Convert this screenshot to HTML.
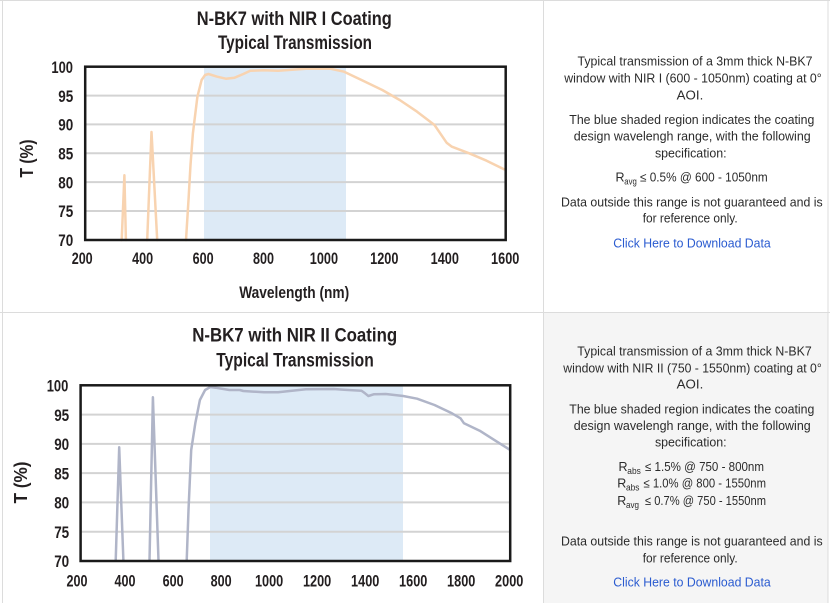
<!DOCTYPE html>
<html><head><meta charset="utf-8"><style>
html,body{margin:0;padding:0;background:#fff;}
svg{display:block;}
.t{font-family:"Liberation Sans Narrow","Liberation Sans",sans-serif;font-weight:bold;fill:#231f20;}
.k{font-family:"Liberation Sans Narrow","Liberation Sans",sans-serif;fill:#231f20;font-size:17px;font-weight:bold;}
.r{font-family:"Liberation Sans",sans-serif;fill:#2b2b2b;font-size:12.5px;}
.s{font-family:"Liberation Sans",sans-serif;fill:#2b2b2b;font-size:9px;}
.l{font-family:"Liberation Sans",sans-serif;fill:#2a5bd0;font-size:12.5px;}
</style></head><body>
<svg width="830" height="603" viewBox="0 0 830 603" xmlns="http://www.w3.org/2000/svg">
<rect x="0" y="0" width="830" height="603" fill="#fff"/>
<rect x="544" y="313" width="284" height="290" fill="#f5f5f5"/>
<g stroke="#dcdcdc" stroke-width="1" fill="none">
<line x1="0" y1="0.5" x2="830" y2="0.5"/>
<line x1="2.5" y1="0" x2="2.5" y2="603"/>
<line x1="828" y1="0" x2="828" y2="603"/>
<line x1="543.5" y1="0" x2="543.5" y2="603"/>
<line x1="0" y1="312.5" x2="830" y2="312.5"/>
</g>

<!-- TOP CHART -->
<text class="t" x="294.3" y="25" font-size="19.5" text-anchor="middle" textLength="195" lengthAdjust="spacingAndGlyphs">N-BK7 with NIR I Coating</text>
<text class="t" x="295" y="49" font-size="19.5" text-anchor="middle" textLength="154" lengthAdjust="spacingAndGlyphs">Typical Transmission</text>
<rect x="204" y="66.7" width="142" height="173.3" fill="#ddeaf6"/>
<g stroke="#d3d3d3" stroke-width="2">
<line x1="85" y1="95.6" x2="506" y2="95.6"/>
<line x1="85" y1="124.4" x2="506" y2="124.4"/>
<line x1="85" y1="153.3" x2="506" y2="153.3"/>
<line x1="85" y1="182.1" x2="506" y2="182.1"/>
<line x1="85" y1="211" x2="506" y2="211"/>
</g>
<g fill="none" stroke="#f8d3b0" stroke-width="2.5" stroke-linejoin="round" stroke-linecap="round">
<polyline points="121.7,240 124.4,175.3 125.9,240"/>
<polyline points="147.2,240 151.5,132 157.2,240"/>
<polyline points="186,240 188.5,200 190.5,165 192.9,133.3 197.4,96.7 201.6,80 205.1,75 208.5,74 217.2,76.7 225.9,78.7 234.6,77.7 243.3,74 250.3,70.7 264.2,70.3 278.1,70.7 288.5,70 305.9,68.7 330.2,68.7 344.1,71.7 361.5,80 382.3,90 399.7,100 417.1,111.7 434.5,125 446.6,142.7 451.9,146.7 469.2,153.3 486.6,160.7 504,169.3"/>
</g>
<rect x="85.2" y="66.7" width="420.5" height="173.3" fill="none" stroke="#1a1a1a" stroke-width="2.5"/>
<g class="k" text-anchor="middle">
<text x="62.2" y="72.9" textLength="21.6" lengthAdjust="spacingAndGlyphs">100</text>
<text x="65.8" y="101.8" textLength="15" lengthAdjust="spacingAndGlyphs">95</text>
<text x="65.8" y="130.6" textLength="15" lengthAdjust="spacingAndGlyphs">90</text>
<text x="65.8" y="159.5" textLength="15" lengthAdjust="spacingAndGlyphs">85</text>
<text x="65.8" y="188.3" textLength="15" lengthAdjust="spacingAndGlyphs">80</text>
<text x="65.8" y="217.2" textLength="15" lengthAdjust="spacingAndGlyphs">75</text>
<text x="65.8" y="246.2" textLength="15" lengthAdjust="spacingAndGlyphs">70</text>
<text x="82.2" y="264" textLength="21" lengthAdjust="spacingAndGlyphs">200</text>
<text x="142.6" y="264" textLength="21" lengthAdjust="spacingAndGlyphs">400</text>
<text x="203.1" y="264" textLength="21" lengthAdjust="spacingAndGlyphs">600</text>
<text x="263.5" y="264" textLength="21" lengthAdjust="spacingAndGlyphs">800</text>
<text x="323.9" y="264" textLength="28.3" lengthAdjust="spacingAndGlyphs">1000</text>
<text x="384.3" y="264" textLength="28.3" lengthAdjust="spacingAndGlyphs">1200</text>
<text x="444.8" y="264" textLength="28.3" lengthAdjust="spacingAndGlyphs">1400</text>
<text x="505.2" y="264" textLength="28.3" lengthAdjust="spacingAndGlyphs">1600</text>
</g>
<text class="t" x="294.2" y="298" font-size="17" text-anchor="middle" textLength="110" lengthAdjust="spacingAndGlyphs">Wavelength (nm)</text>
<text class="t" font-size="18" text-anchor="middle" transform="translate(33,158.5) rotate(-90)" textLength="38" lengthAdjust="spacingAndGlyphs">T (%)</text>

<!-- BOTTOM CHART -->
<text class="t" x="294.7" y="341.7" font-size="19.5" text-anchor="middle" textLength="205" lengthAdjust="spacingAndGlyphs">N-BK7 with NIR II Coating</text>
<text class="t" x="295" y="366.7" font-size="19.5" text-anchor="middle" textLength="157.5" lengthAdjust="spacingAndGlyphs">Typical Transmission</text>
<rect x="210" y="385.3" width="193" height="175.7" fill="#ddeaf6"/>
<g stroke="#d3d3d3" stroke-width="2">
<line x1="80.6" y1="414.6" x2="510.2" y2="414.6"/>
<line x1="80.6" y1="443.9" x2="510.2" y2="443.9"/>
<line x1="80.6" y1="473.1" x2="510.2" y2="473.1"/>
<line x1="80.6" y1="502.4" x2="510.2" y2="502.4"/>
<line x1="80.6" y1="531.7" x2="510.2" y2="531.7"/>
</g>
<g fill="none" stroke="#b0b5c8" stroke-width="2.5" stroke-linejoin="round" stroke-linecap="round">
<polyline points="115.7,560.7 119.2,447.3 123.4,560.7"/>
<polyline points="149.5,560.7 152.9,397.3 158.5,560.7"/>
<polyline points="186.7,560.7 188.5,510 191.2,450 195.3,423.3 199.9,400 205.1,390 210.3,387 215.5,387.7 229.4,390 239.8,390 243.3,391 264.2,392.3 278.1,392.3 305.9,389.3 333.7,389 344.1,389.7 361.5,390.7 365,393.3 368.4,396 373.7,394.3 385.8,394 403.2,396 417.1,398.7 434.5,405 451.9,413.3 460.5,418.3 464,423.3 479.7,430.7 497,441.7 510.2,450"/>
</g>
<rect x="80.6" y="385.3" width="429.6" height="175.7" fill="none" stroke="#1a1a1a" stroke-width="2.5"/>
<g class="k" text-anchor="middle">
<text x="57.5" y="391.5" textLength="21.6" lengthAdjust="spacingAndGlyphs">100</text>
<text x="61.7" y="420.8" textLength="15" lengthAdjust="spacingAndGlyphs">95</text>
<text x="61.7" y="450.1" textLength="15" lengthAdjust="spacingAndGlyphs">90</text>
<text x="61.7" y="479.3" textLength="15" lengthAdjust="spacingAndGlyphs">85</text>
<text x="61.7" y="508.6" textLength="15" lengthAdjust="spacingAndGlyphs">80</text>
<text x="61.7" y="537.9" textLength="15" lengthAdjust="spacingAndGlyphs">75</text>
<text x="61.7" y="567.2" textLength="15" lengthAdjust="spacingAndGlyphs">70</text>
<text x="77" y="586.7" textLength="21" lengthAdjust="spacingAndGlyphs">200</text>
<text x="125" y="586.7" textLength="21" lengthAdjust="spacingAndGlyphs">400</text>
<text x="173.1" y="586.7" textLength="21" lengthAdjust="spacingAndGlyphs">600</text>
<text x="221.1" y="586.7" textLength="21" lengthAdjust="spacingAndGlyphs">800</text>
<text x="269.1" y="586.7" textLength="28.3" lengthAdjust="spacingAndGlyphs">1000</text>
<text x="317.1" y="586.7" textLength="28.3" lengthAdjust="spacingAndGlyphs">1200</text>
<text x="365.2" y="586.7" textLength="28.3" lengthAdjust="spacingAndGlyphs">1400</text>
<text x="413.2" y="586.7" textLength="28.3" lengthAdjust="spacingAndGlyphs">1600</text>
<text x="461.2" y="586.7" textLength="28.3" lengthAdjust="spacingAndGlyphs">1800</text>
<text x="509.2" y="586.7" textLength="28.3" lengthAdjust="spacingAndGlyphs">2000</text>
</g>
<text class="t" font-size="18" text-anchor="middle" transform="translate(27,482.5) rotate(-90)" textLength="42" lengthAdjust="spacingAndGlyphs">T (%)</text>

<!-- TOP RIGHT TEXT -->
<g text-anchor="middle">
<text class="r" x="695" y="65.7" textLength="235" lengthAdjust="spacingAndGlyphs">Typical transmission of a 3mm thick N-BK7</text>
<text class="r" x="693" y="82.7" textLength="257.4" lengthAdjust="spacingAndGlyphs">window with NIR I (600 - 1050nm) coating at 0°</text>
<text class="r" x="690" y="99.3" textLength="26.6" lengthAdjust="spacingAndGlyphs">AOI.</text>
<text class="r" x="691.8" y="124" textLength="245" lengthAdjust="spacingAndGlyphs">The blue shaded region indicates the coating</text>
<text class="r" x="692.2" y="140.5" textLength="237" lengthAdjust="spacingAndGlyphs">design wavelengh range, with the following</text>
<text class="r" x="690.8" y="157.3" textLength="71.7" lengthAdjust="spacingAndGlyphs">specification:</text>
<text class="r" x="691.8" y="206.7" textLength="261.7" lengthAdjust="spacingAndGlyphs">Data outside this range is not guaranteed and is</text>
<text class="r" x="690.2" y="222.7" textLength="95" lengthAdjust="spacingAndGlyphs">for reference only.</text>
<text class="l" x="692" y="247.3" textLength="157.4" lengthAdjust="spacingAndGlyphs">Click Here to Download Data</text>
</g>
<text class="r" x="615.5" y="181.7">R</text>
<text class="s" x="624.3" y="184.5" textLength="12.5" lengthAdjust="spacingAndGlyphs">avg</text>
<text class="r" x="640" y="181.7" textLength="127.7" lengthAdjust="spacingAndGlyphs">≤ 0.5% @ 600 - 1050nm</text>

<!-- BOTTOM RIGHT TEXT -->
<g text-anchor="middle">
<text class="r" x="694.5" y="355.7" textLength="234.4" lengthAdjust="spacingAndGlyphs">Typical transmission of a 3mm thick N-BK7</text>
<text class="r" x="692.5" y="372.3" textLength="258.4" lengthAdjust="spacingAndGlyphs">window with NIR II (750 - 1550nm) coating at 0°</text>
<text class="r" x="690" y="388.7" textLength="26.6" lengthAdjust="spacingAndGlyphs">AOI.</text>
<text class="r" x="691.8" y="413.3" textLength="245" lengthAdjust="spacingAndGlyphs">The blue shaded region indicates the coating</text>
<text class="r" x="692.2" y="430" textLength="237" lengthAdjust="spacingAndGlyphs">design wavelengh range, with the following</text>
<text class="r" x="690.8" y="446.7" textLength="71.7" lengthAdjust="spacingAndGlyphs">specification:</text>
<text class="r" x="691.8" y="545.7" textLength="261.7" lengthAdjust="spacingAndGlyphs">Data outside this range is not guaranteed and is</text>
<text class="r" x="690.2" y="562.3" textLength="95" lengthAdjust="spacingAndGlyphs">for reference only.</text>
<text class="l" x="692" y="586.7" textLength="157.4" lengthAdjust="spacingAndGlyphs">Click Here to Download Data</text>
</g>
<text class="r" x="618.5" y="471">R</text>
<text class="s" x="627.3" y="473.8" textLength="13.5" lengthAdjust="spacingAndGlyphs">abs</text>
<text class="r" x="645" y="471" textLength="119" lengthAdjust="spacingAndGlyphs">≤ 1.5% @ 750 - 800nm</text>
<text class="r" x="617.2" y="487.7">R</text>
<text class="s" x="626" y="490.5" textLength="13.5" lengthAdjust="spacingAndGlyphs">abs</text>
<text class="r" x="643.5" y="487.7" textLength="122.5" lengthAdjust="spacingAndGlyphs">≤ 1.0% @ 800 - 1550nm</text>
<text class="r" x="617.2" y="505">R</text>
<text class="s" x="626" y="507.8" textLength="13" lengthAdjust="spacingAndGlyphs">avg</text>
<text class="r" x="645" y="505" textLength="121" lengthAdjust="spacingAndGlyphs">≤ 0.7% @ 750 - 1550nm</text>
</svg>
</body></html>
